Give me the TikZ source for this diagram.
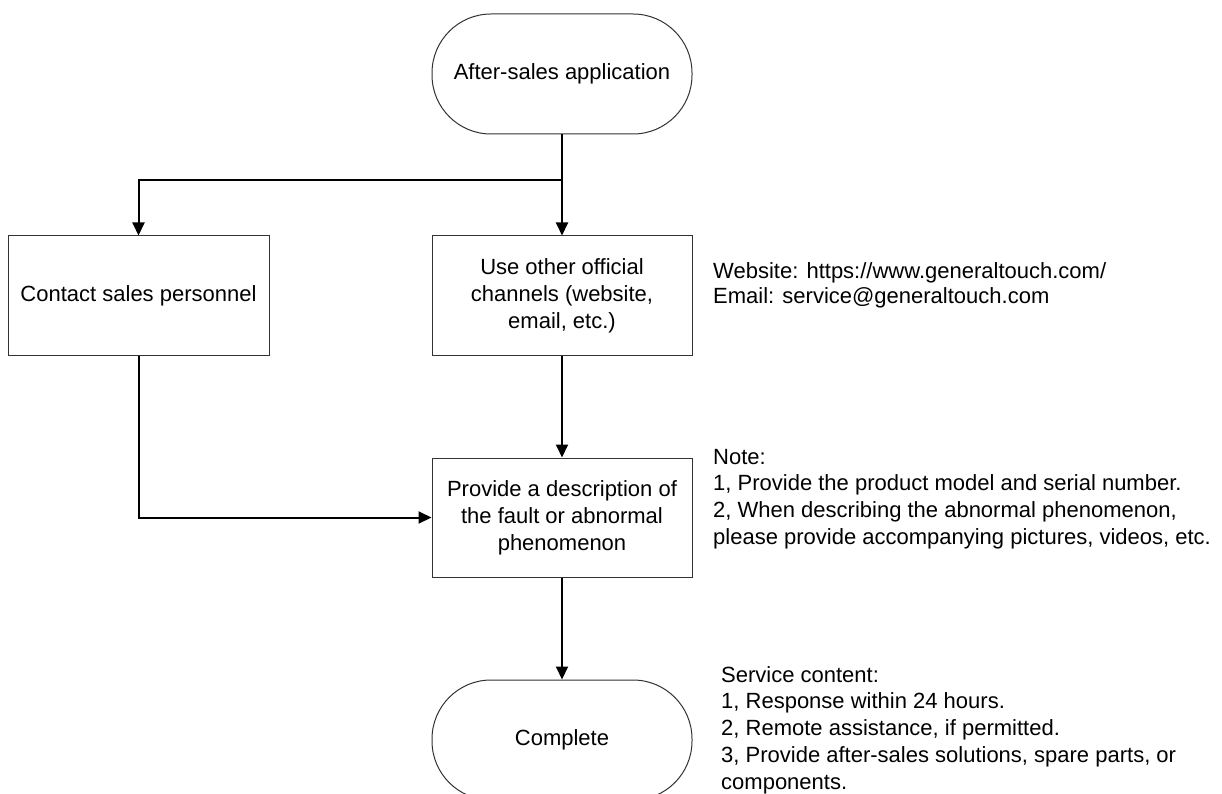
\documentclass[tikz,border=0pt]{standalone}
\usepackage{fontspec}
\setmainfont{Liberation Sans}
\usetikzlibrary{arrows.meta}
\begin{document}
\begin{tikzpicture}[x=1pt,y=-1pt,
  every node/.style={font=\fontsize{22}{27}\selectfont, inner sep=0pt},
  procbox/.style={draw=black!80, line width=1pt, minimum width=260pt, minimum height=119pt, align=center, fill=white},
  termbox/.style={draw=black!80, line width=1pt, minimum width=260pt, minimum height=120pt, rounded corners=59pt, align=center, fill=white},
  conn/.style={draw=black, line width=2pt},
  arr/.style={conn, -{Triangle[length=13pt,width=12pt]}},
  note/.style={anchor=west, align=left}
]
\clip (0,0) rectangle (1222,794);
\fill[white] (0,0) rectangle (1222,794);

\node[termbox] (start) at (562,74) {After-sales application};
\node[procbox, minimum width=261pt] (contact) at (138.5,295.5) {Contact sales personnel};
\node[procbox] (channels) at (562,295.5) {Use other official\\channels (website,\\email, etc.)};
\node[procbox] (desc) at (562,517.5) {Provide a description of\\the fault or abnormal\\phenomenon};
\node[termbox] (end) at (562,740) {Complete};

\coordinate (j) at (562,180);
\draw[conn] (start.south) -- (j);
\draw[arr] (j) -- (channels.north);
\draw[arr] (j) -| (contact.north);
\draw[arr] (channels.south) -- (desc.north);
\draw[arr] (contact.south) |- (desc.west);
\draw[arr] (desc.south) -- (end.north);

\node[note, font=\fontsize{22}{25}\selectfont] (web) at (713,285) {Website: https://www.generaltouch.com/\\Email: service@generaltouch.com};
\node[note, font=\fontsize{22}{26.7}\selectfont] (notes) at (713,499) {Note:\\1, Provide the product model and serial number.\\2, When describing the abnormal phenomenon,\\please provide accompanying pictures, videos, etc.};
\node[note, font=\fontsize{22}{26.7}\selectfont] (service) at (721,730) {Service content:\\1, Response within 24 hours.\\2, Remote assistance, if permitted.\\3, Provide after-sales solutions, spare parts, or\\components.};
\end{tikzpicture}
\end{document}
